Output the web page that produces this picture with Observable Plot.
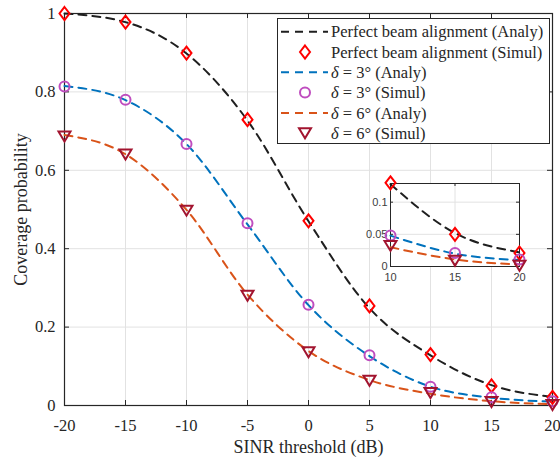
<!DOCTYPE html>
<html><head><meta charset="utf-8">
<script src="https://cdn.jsdelivr.net/npm/d3@7"></script>
<script src="https://cdn.jsdelivr.net/npm/@observablehq/plot@0.6"></script>
<style>
html,body{margin:0;padding:0;background:#fff;}
#wrap{position:relative;width:560px;height:459px;overflow:hidden;background:#fff;}
#wrap > svg{position:absolute;overflow:visible;}
</style></head><body><div id="wrap"></div>
<script>
// ---- data ----
const sinr = [-20, -15, -10, -5, 0, 5, 10, 15, 20];
const perfectAnaly = [1.0, 0.978, 0.898, 0.727, 0.47, 0.248, 0.128, 0.052, 0.022];
const perfectSimul = [1.0, 0.978, 0.899, 0.729, 0.471, 0.254, 0.13, 0.05, 0.021];
const delta3Analy = [0.815, 0.779, 0.667, 0.462, 0.256, 0.126, 0.048, 0.02, 0.01];
const delta3Simul = [0.814, 0.78, 0.667, 0.465, 0.257, 0.128, 0.048, 0.021, 0.011];
const delta6Analy = [0.69, 0.641, 0.499, 0.283, 0.139, 0.065, 0.03, 0.011, 0.003];
const delta6Simul = [0.686, 0.64, 0.497, 0.28, 0.136, 0.063, 0.032, 0.009, 0.001];
const xTicks = [-20, -15, -10, -5, 0, 5, 10, 15, 20];
const yTicks = [0, 0.2, 0.4, 0.6, 0.8, 1];
const insetXTicks = [10, 15, 20];
const insetYTicks = [0, 0.05, 0.1];
const legendLabels = [
  "Perfect beam alignment (Analy)", "Perfect beam alignment (Simul)",
  "= 3° (Analy)", "= 3° (Simul)", "= 6° (Analy)", "= 6° (Simul)"
];
const xLabel = "SINR threshold (dB)";
const yLabel = "Coverage probability";

// ---- styling ----
const diamond = {draw(ctx, size){const r=Math.sqrt(size/Math.PI); const w=r, h=1.3*r;
  ctx.moveTo(0,-h); ctx.lineTo(w,0); ctx.lineTo(0,h); ctx.lineTo(-w,0); ctx.closePath();}};
const triDown = {draw(ctx, size){const r=Math.sqrt(size/Math.PI);
  ctx.moveTo(-1.2*r,-r); ctx.lineTo(1.2*r,-r); ctx.lineTo(0,r); ctx.closePath();}};
const circle = {draw(ctx, size){const r=Math.sqrt(size/Math.PI); ctx.moveTo(r,0); ctx.arc(0,0,r,0,2*Math.PI);}};

const rows = ys => sinr.map((x,i)=>({x, y: ys[i]}));
const series = [
  {analy: rows(perfectAnaly), simul: rows(perfectSimul), line:"#1f1f1f", mark:"#FF0000", symbol: diamond},
  {analy: rows(delta3Analy), simul: rows(delta3Simul), line:"#0072BD", mark:"#BF4DBF", symbol: circle},
  {analy: rows(delta6Analy), simul: rows(delta6Simul), line:"#D95319", mark:"#A2142F", symbol: triDown}
];
const DASH = "8,6";
const AX = "#262626", GRID = "#e2e2e2";
const fmt = d => d < 0 ? "-" + (-d) : String(d);
const SERIF = "'Liberation Serif','Times New Roman',serif";

const W=560, H=459, mL=64, mR=8, mT=13, mB=54;
const fw=W-mL-mR, fh=H-mT-mB;

function dataMarks(filter, r){
  const m = [];
  for (const s of series) {
    m.push(Plot.line(s.analy, {x:"x", y:"y", filter, stroke:s.line, strokeWidth:2, strokeDasharray:DASH, curve:"monotone-x"}));
  }
  for (const s of series) {
    m.push(Plot.dot(s.simul, {x:"x", y:"y", filter, symbol:s.symbol, r, stroke:s.mark, fill:"none", strokeWidth:2}));
  }
  return m;
}

const main = Plot.plot({
  width:W, height:H, marginLeft:mL, marginRight:mR, marginTop:mT, marginBottom:mB,
  style:{fontFamily:SERIF, fontSize:"16.5px", color:AX, background:"transparent", overflow:"visible"},
  x:{domain:[-20,20]}, y:{domain:[0,1]},
  marks:[
    Plot.gridX(xTicks, {stroke:GRID, strokeOpacity:1}),
    Plot.gridY(yTicks, {stroke:GRID, strokeOpacity:1}),
    Plot.axisX(xTicks, {tickSize:0, tickPadding:14, tickFormat:fmt, label:null, fill:AX}),
    Plot.axisY(yTicks, {tickSize:0, tickPadding:9, tickFormat:fmt, label:null, fill:AX}),
    Plot.tickX(xTicks, {x:d=>d, stroke:AX, insetTop:fh-5}),
    Plot.tickX(xTicks, {x:d=>d, stroke:AX, insetBottom:fh-5}),
    Plot.tickY(yTicks, {y:d=>d, stroke:AX, insetRight:fw-5}),
    Plot.tickY(yTicks, {y:d=>d, stroke:AX, insetLeft:fw-5}),
    Plot.frame({stroke:AX, strokeWidth:1.2}),
    Plot.text([xLabel], {text:d=>d, frameAnchor:"bottom", dy:47, lineAnchor:"bottom", fontSize:18, fill:AX}),
    Plot.text([yLabel], {text:d=>d, frameAnchor:"left", dx:-43, rotate:-90, lineAnchor:"middle", textAnchor:"middle", fontSize:18, fill:AX}),
    ...dataMarks(undefined, 5)
  ]
});
main.style.left="0px"; main.style.top="0px";
document.getElementById("wrap").appendChild(main);

// ---- inset ----
const iL=30, iR=12, iT=10, iB=22, iW=129, iH=83;
const inset = Plot.plot({
  width:iL+iW+iR, height:iT+iH+iB, marginLeft:iL, marginRight:iR, marginTop:iT, marginBottom:iB,
  style:{fontFamily:"'Liberation Sans',Arial,sans-serif", fontSize:"11px", color:AX, background:"transparent", overflow:"visible"},
  x:{domain:[10,20]}, y:{domain:[0,0.129]},
  marks:[
    Plot.frame({fill:"white"}),
    Plot.gridX([15], {stroke:GRID, strokeOpacity:1}),
    Plot.gridY([0.05, 0.1], {stroke:GRID, strokeOpacity:1}),
    Plot.axisX(insetXTicks, {tickSize:0, tickPadding:7, tickFormat:d=>String(d), label:null, fill:"#404040"}),
    Plot.axisY(insetYTicks, {tickSize:0, tickPadding:3, tickFormat:d=>String(d), label:null, fill:"#404040"}),
    Plot.tickX(insetXTicks, {x:d=>d, stroke:AX, insetTop:iH-3}),
    Plot.tickX(insetXTicks, {x:d=>d, stroke:AX, insetBottom:iH-3}),
    Plot.tickY(insetYTicks, {y:d=>d, stroke:AX, insetRight:iW-3}),
    Plot.tickY(insetYTicks, {y:d=>d, stroke:AX, insetLeft:iW-3}),
    Plot.frame({stroke:AX}),
    ...dataMarks(d => d.x >= 10, 5)
  ]
});
inset.style.left=(390-iL)+"px"; inset.style.top=(183-iT)+"px";
document.getElementById("wrap").appendChild(inset);

// ---- legend ----
const leg = d3.create("svg").attr("width", W).attr("height", H).style("left","0px").style("top","0px");
leg.append("rect").attr("x",277.5).attr("y",18.5).attr("width",272).attr("height",125)
  .attr("fill","white").attr("stroke",AX).attr("stroke-width",1);
const rowY = i => 31.7 + i*20.3;
legendLabels.forEach((lab, i) => {
  const s = series[Math.floor(i/2)], y = rowY(i);
  if (i % 2 === 0) {
    leg.append("line").attr("x1",281).attr("x2",328).attr("y1",y).attr("y2",y)
      .attr("stroke",s.line).attr("stroke-width",2).attr("stroke-dasharray",DASH);
  } else {
    leg.append("path").attr("transform",`translate(305,${y})`)
      .attr("d", d3.symbol(s.symbol, Math.PI*25)()).attr("fill","none").attr("stroke",s.mark).attr("stroke-width",2);
  }
  const t = leg.append("text").attr("x",331).attr("y",y).attr("dy","0.35em")
    .attr("font-family",SERIF).attr("font-size",16.5).attr("fill",AX);
  if (i >= 2) {
    t.append("tspan").attr("font-style","italic").text("δ");
    t.append("tspan").text(" " + lab);
  } else t.text(lab);
});
document.getElementById("wrap").appendChild(leg.node());
</script></body></html>
